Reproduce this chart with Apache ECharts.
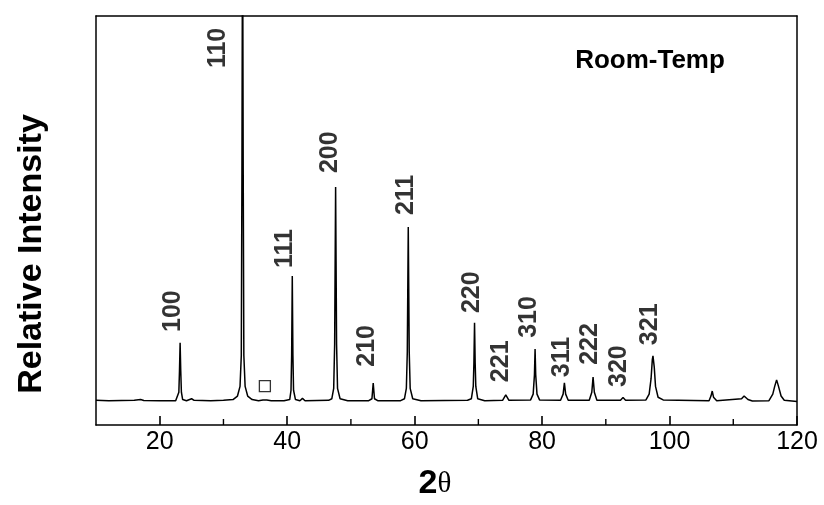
<!DOCTYPE html>
<html>
<head>
<meta charset="utf-8">
<script src="https://cdn.jsdelivr.net/npm/echarts@6/dist/echarts.min.js"></script>
<style>html,body{margin:0;padding:0;background:#fff}#c{width:824px;height:505px}</style>
</head>
<body>
<div id="c"></div>
<script>
// XRD profile: [2theta, relative intensity]
const profile = [
  [10,0.4],[12,0.3],[14,0.35],[16,0.4],[17,0.6],[17.5,0.35],[20,0.3],[22.5,0.3],
  [22.8,0.5],[23.0,2.5],[23.1,8],[23.2,15.3],[23.3,8],[23.4,2.5],[23.6,0.6],[24.2,0.3],
  [25,0.8],[25.4,0.4],[28,0.3],[30,0.4],[31.5,0.6],[32.2,1.5],[32.6,4],[32.8,12],[32.9,60],[33.0,130],[33.1,60],[33.2,12],[33.4,4],[33.8,1.5],[34.5,0.6],[35.5,0.3],
  [36.2,0.5],[36.5,1.0],[36.8,0.5],[37.5,0.3],[39.5,0.3],
  [40.4,0.6],[40.6,3],[40.7,12],[40.8,32.6],[40.9,12],[41.0,3],[41.3,0.6],[42,0.3],[42.4,0.9],[42.8,0.3],[46.5,0.4],
  [47.0,0.8],[47.3,3.5],[47.45,15],[47.6,55.7],[47.75,15],[47.9,3.5],[48.3,0.8],[49.5,0.3],[52.8,0.3],
  [53.3,0.8],[53.5,4.9],[53.7,0.8],[54.2,0.3],[57.8,0.3],
  [58.4,0.8],[58.7,3.5],[58.85,13],[59.0,45.3],[59.15,13],[59.3,3.5],[59.7,0.8],[61,0.3],[68.3,0.4],
  [68.9,0.8],[69.2,4],[69.3,10],[69.4,20.5],[69.5,10],[69.6,4],[69.9,0.8],[71,0.3],[73.8,0.4],
  [74.3,1.8],[74.8,0.4],[78.2,0.5],
  [78.6,2],[78.8,7],[78.9,13.7],[79.0,7],[79.2,2],[79.6,0.5],[82.9,0.4],
  [83.3,2],[83.5,4.9],[83.7,2],[84.1,0.4],[87.4,0.4],
  [87.8,2.5],[88.0,6.4],[88.2,2.5],[88.6,0.4],[92.3,0.4],
  [92.7,1.1],[93.1,0.4],[96.3,0.5],
  [96.8,2],[97.1,6],[97.3,11],[97.4,11.9],[97.6,9],[97.8,4],[98.2,1.2],[99,0.5],[106.2,0.3],
  [106.5,1.5],[106.7,2.8],[106.9,1.2],[107.4,0.3],
  [111.3,0.8],[111.7,1.5],[112.3,0.6],[113,0.2],[115.6,0.3],
  [116.2,2],[116.5,4],[116.8,5.7],[117.1,4],[117.5,1.5],[118,0.4],[120,0.1]
];
// Miller index labels and where their text starts (2theta, intensity)
const hkl    = ['100','110','111','200','210','211','220','221','310','311','222','320','321'];
const labelX = [22.09,29.15,39.67,46.73,52.5,58.67,69.03,73.58,77.98,83.16,87.55,92.1,96.97];
const labelY = [18.1,86.5,34.7,59.3,9.1,48.4,23.0,5.1,16.6,6.4,9.6,3.85,14.7];
// impurity marker
const impurity = [[36.5,4.1]];
const xMajor = [20,40,60,80,100,120];
const xMinor = [30,50,70,90,110];

const chart = echarts.init(document.getElementById('c'), null, {renderer:'canvas'});
const FONT = 'Liberation Sans, Arial, sans-serif';
chart.setOption({
  animation:false,
  backgroundColor:'#fff',
  grid:{left:96,right:27,top:16,bottom:80,show:false},
  xAxis:[{
    type:'value',min:10,max:120,interval:10,position:'bottom',
    axisLine:{show:true,onZero:false,lineStyle:{color:'#000',width:1.5}},
    axisTick:{show:true,inside:true,length:9,customValues:xMajor,lineStyle:{color:'#000',width:1.6}},
    axisLabel:{show:true,customValues:xMajor,fontSize:25,color:'#000',fontFamily:FONT,margin:5},
    splitLine:{show:false}
  },{
    type:'value',min:10,max:120,position:'top',
    axisLine:{show:true,onZero:false,lineStyle:{color:'#000',width:1.5}},
    axisTick:{show:false},axisLabel:{show:false},splitLine:{show:false}
  }],
  yAxis:[{type:'value',min:-6,max:100,position:'left',
    axisLine:{show:true,onZero:false,lineStyle:{color:'#000',width:1.5}},
    axisTick:{show:false},axisLabel:{show:false},splitLine:{show:false}},
   {type:'value',min:-6,max:100,position:'right',
    axisLine:{show:true,onZero:false,lineStyle:{color:'#000',width:1.5}},
    axisTick:{show:false},axisLabel:{show:false},splitLine:{show:false}}],
  series:[
    {type:'line',data:profile,showSymbol:false,symbol:'none',clip:true,
     lineStyle:{color:'#000',width:1.5},z:3},
    {type:'scatter',symbolSize:0,silent:true,z:5,
     data:labelX.map((x,i)=>({value:[x,labelY[i]],name:hkl[i]})),
     label:{show:true,formatter:'{b}',position:'inside',rotate:90,align:'left',verticalAlign:'middle',
       fontSize:25,fontWeight:'bold',color:'#000',fontFamily:FONT}},
    {type:'scatter',data:impurity,symbol:'rect',symbolSize:11,silent:true,z:6,
     itemStyle:{color:'#fff',borderColor:'#000',borderWidth:1.3}},
    // minor ticks on the bottom axis, placed through the axis scale
    {type:'custom',silent:true,z:8,clip:false,
     data:xMinor.map(v=>[v,-6]),
     renderItem:(params,api)=>{
       const p=api.coord([api.value(0),api.value(1)]);
       return {type:'line',shape:{x1:p[0],y1:p[1],x2:p[0],y2:p[1]-6},style:{stroke:'#000',lineWidth:1.4}};
     }}
  ],
  graphic:[
    {type:'text',x:650,y:61,style:{text:'Room-Temp',font:'bold 26px '+FONT,fill:'#000',align:'center',verticalAlign:'middle',textAlign:'center',textVerticalAlign:'middle'}},
    {type:'text',x:32,y:254,rotation:Math.PI/2,style:{text:'Relative Intensity',font:'bold 34px '+FONT,fill:'#000',align:'center',verticalAlign:'middle',textAlign:'center',textVerticalAlign:'middle'}},
    {type:'text',x:435,y:484,style:{text:'{a|2}{b|θ}',rich:{a:{font:'bold 34px '+FONT,fill:'#000'},b:{font:'29px Liberation Serif, Times New Roman, serif',fill:'#000'}},align:'center',verticalAlign:'middle',textAlign:'center',textVerticalAlign:'middle'}}
  ]
});
</script>
</body>
</html>
